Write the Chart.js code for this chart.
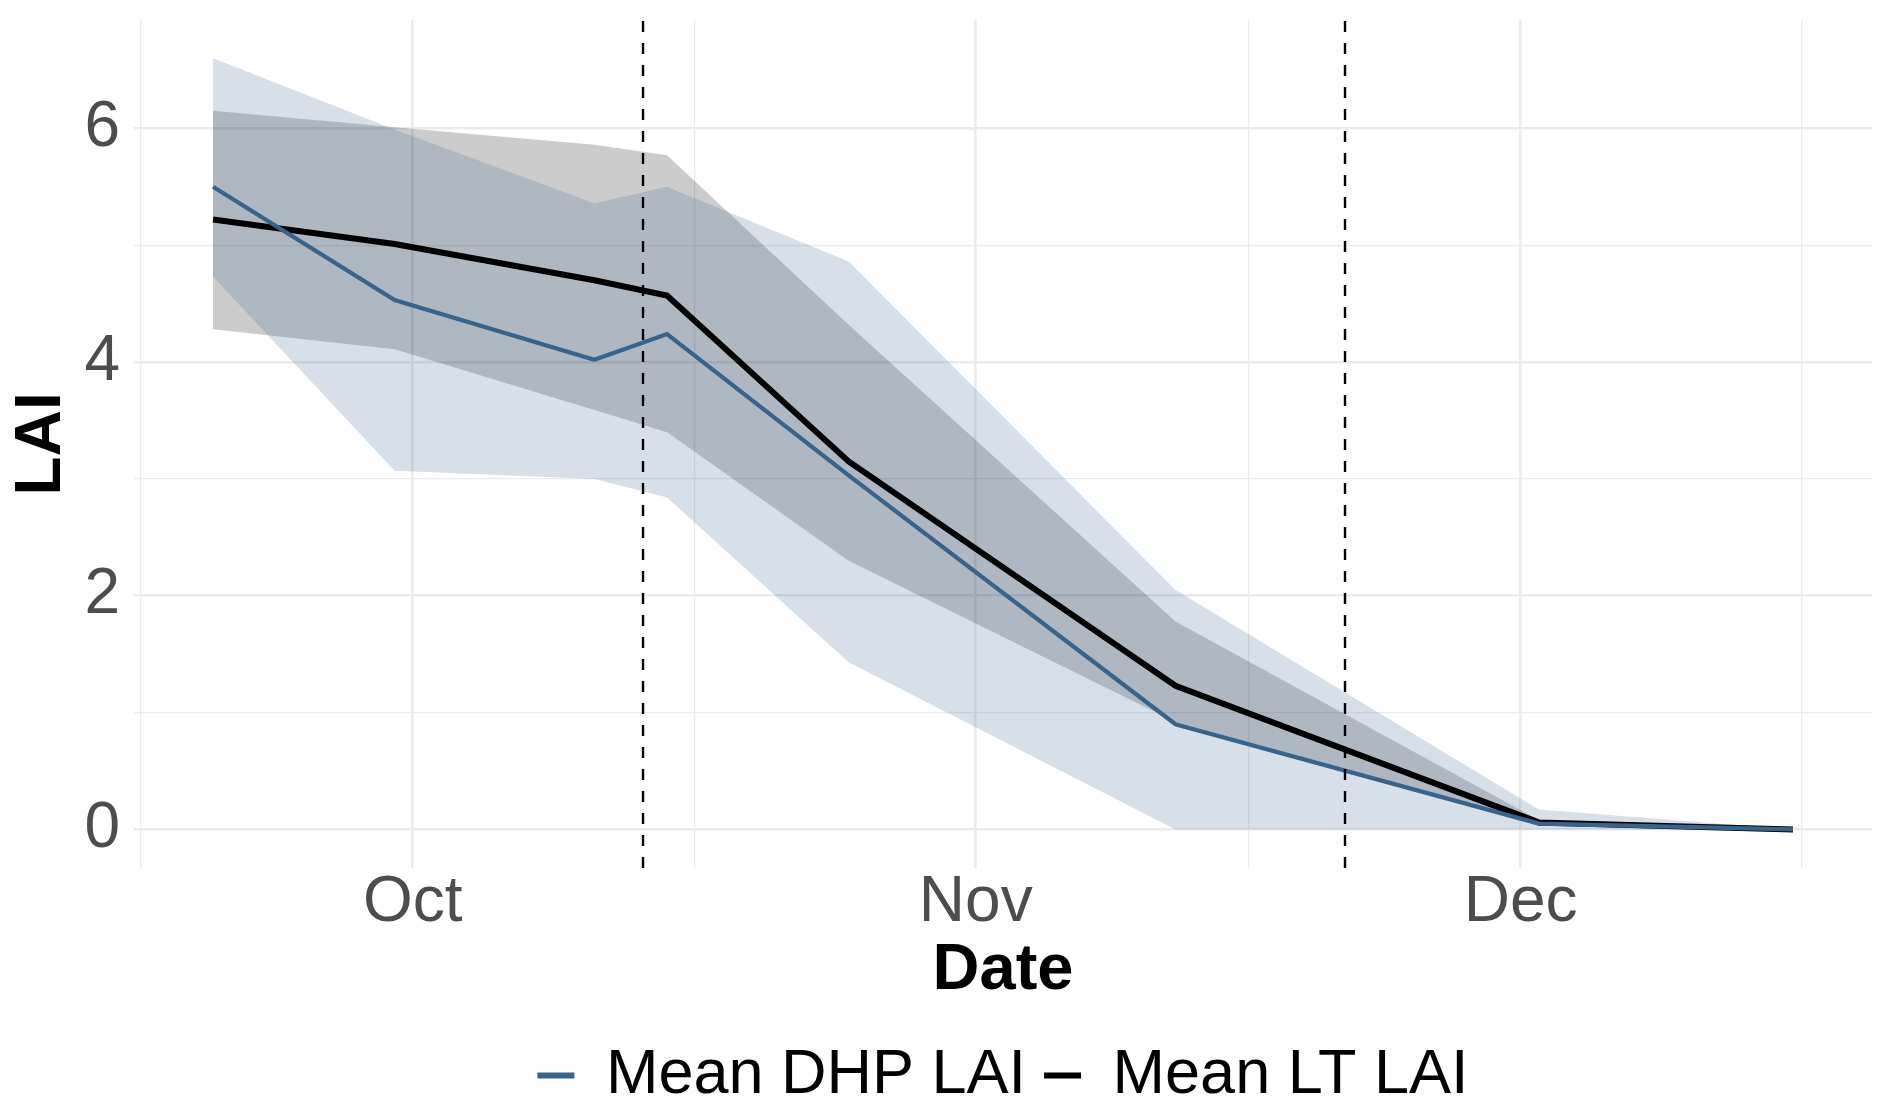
<!DOCTYPE html>
<html><head><meta charset="utf-8">
<script src="https://cdn.jsdelivr.net/npm/chart.js@4.4.1/dist/chart.umd.min.js"></script>
<style>html,body{margin:0;padding:0;background:#fff}canvas{display:block}</style>
</head><body>
<canvas id="c" width="1892" height="1119" style="width:1892px;height:1119px"></canvas>
<script>
// ---- data ----
const dates = ['2021-09-20','2021-09-30','2021-10-11','2021-10-15','2021-10-25','2021-11-12','2021-12-02','2021-12-16'];
const dhpMean  = [5.50, 4.53, 4.02, 4.24, 3.03, 0.90, 0.05, 0.00];
const dhpUpper = [6.60, 5.99, 5.36, 5.50, 4.86, 2.05, 0.17, 0.00];
const dhpLower = [4.73, 3.07, 3.00, 2.84, 1.43, 0.00, 0.00, 0.00];
const ltMean   = [5.22, 5.01, 4.70, 4.57, 3.15, 1.23, 0.06, 0.00];
const ltUpper  = [6.15, 6.01, 5.86, 5.77, 4.32, 1.78, 0.08, 0.01];
const ltLower  = [4.28, 4.11, 3.59, 3.40, 2.30, 0.92, 0.04, 0.00];
const phaseDates = ['2021-10-13T16:00','2021-11-21T08:30'];
const xMajorDates = ['2021-10-01','2021-11-01','2021-12-01'];
const xMajorLabels = ['Oct','Nov','Dec'];
const xMinorDates = ['2021-09-16','2021-10-16T12:00','2021-11-16','2021-12-16T12:00'];
const yMajorTicks = [0, 2, 4, 6];
const yMinorTicks = [1, 3, 5];
const seriesLabels = ['Mean DHP LAI', 'Mean LT LAI'];

// ---- helpers ----
const ORIGIN = Date.UTC(2021, 9, 1);
function toDay(s) {
  const iso = s.length === 10 ? s + 'T00:00Z' : s + 'Z';
  return (Date.parse(iso) - ORIGIN) / 86400000;
}
const xs = dates.map(toDay);
const pts = arr => arr.map((v, i) => ({x: xs[i], y: v}));
const xMinData = Math.min(...xs), xMaxData = Math.max(...xs);
const xPad = 0.05 * (xMaxData - xMinData);
const yMaxData = Math.max(...dhpUpper, ...ltUpper), yMinData = 0;
const yPad = 0.05 * (yMaxData - yMinData);

const BLUE = '#36648B';
const FONT = '"Liberation Sans", Arial, Helvetica, sans-serif';
Chart.defaults.font.family = FONT;

const vlinePlugin = {
  id: 'vlines',
  afterDatasetsDraw(chart) {
    const {ctx, chartArea: a, scales: {x}} = chart;
    ctx.save();
    ctx.beginPath(); ctx.rect(a.left, a.top, a.right - a.left, a.bottom - a.top); ctx.clip();
    ctx.strokeStyle = '#000'; ctx.lineWidth = 2.4; ctx.setLineDash([11, 11]);
    phaseDates.forEach(d => {
      const px = Math.round(x.getPixelForValue(toDay(d)));
      ctx.beginPath(); ctx.moveTo(px, a.bottom); ctx.lineTo(px, a.top); ctx.stroke();
    });
    ctx.restore();
  }
};

const gridWidth = ctx => (ctx.tick && ctx.tick.major) ? 2.6 : 1.3;

new Chart(document.getElementById('c'), {
  type: 'line',
  data: {
    datasets: [
      {label: seriesLabels[0], data: pts(dhpMean), borderColor: BLUE, borderWidth: 4.2, pointRadius: 0, fill: false, tension: 0},
      {label: seriesLabels[1], data: pts(ltMean), borderColor: '#000', borderWidth: 6, pointRadius: 0, fill: false, tension: 0},
      {label: 'DHP upper', data: pts(dhpUpper), borderWidth: 0, borderColor: 'rgba(0,0,0,0)', pointRadius: 0, fill: '+1', backgroundColor: 'rgba(54,100,139,0.2)'},
      {label: 'DHP lower', data: pts(dhpLower), borderWidth: 0, borderColor: 'rgba(0,0,0,0)', pointRadius: 0, fill: false},
      {label: 'LT upper', data: pts(ltUpper), borderWidth: 0, borderColor: 'rgba(0,0,0,0)', pointRadius: 0, fill: '+1', backgroundColor: 'rgba(0,0,0,0.2)'},
      {label: 'LT lower', data: pts(ltLower), borderWidth: 0, borderColor: 'rgba(0,0,0,0)', pointRadius: 0, fill: false}
    ]
  },
  options: {
    responsive: false,
    devicePixelRatio: 1,
    animation: false,
    layout: {padding: {left: 0, right: 20, top: 0, bottom: 2}},
    plugins: {
      tooltip: {enabled: false},
      filler: {propagate: false},
      legend: {
        position: 'bottom',
        fullSize: false,
        labels: {
          color: '#000',
          font: {size: 63, family: FONT},
          boxWidth: 37, boxHeight: 6, padding: 18,
          generateLabels: chart => [0, 1].map(i => ({
            text: chart.data.datasets[i].label,
            fillStyle: chart.data.datasets[i].borderColor,
            strokeStyle: chart.data.datasets[i].borderColor,
            lineWidth: 0, hidden: false, datasetIndex: i
          }))
        }
      }
    },
    scales: {
      x: {
        type: 'linear',
        min: xMinData - xPad, max: xMaxData + xPad,
        afterBuildTicks: s => {
          s.ticks = xMajorDates.map((d, i) => ({value: toDay(d), major: true, lab: xMajorLabels[i]}))
            .concat(xMinorDates.map(d => ({value: toDay(d), major: false, lab: ''})))
            .sort((a, b) => a.value - b.value);
        },
        afterFit: s => { s.height = 158; },
        ticks: {
          autoSkip: false, maxRotation: 0, padding: 3, color: '#4D4D4D',
          font: {size: 64, lineHeight: 1},
          callback: (v, i, t) => t[i].lab
        },
        grid: {color: '#EBEBEB', lineWidth: gridWidth, drawTicks: false},
        border: {display: false},
        title: {display: true, text: 'Date', color: '#000', font: {size: 65, weight: 'bold', lineHeight: 1}, padding: {top: 0, bottom: 22}}
      },
      y: {
        type: 'linear',
        min: yMinData - yPad, max: yMaxData + yPad,
        afterBuildTicks: s => {
          s.ticks = yMajorTicks.map(v => ({value: v, major: true}))
            .concat(yMinorTicks.map(v => ({value: v, major: false})))
            .sort((a, b) => a.value - b.value);
        },
        afterFit: s => { s.width = 134; },
        ticks: {
          padding: 14, color: '#4D4D4D',
          font: {size: 64, lineHeight: 0.178},
          callback: (v, i, t) => t[i].major ? String(v) : ''
        },
        grid: {color: '#EBEBEB', lineWidth: gridWidth, drawTicks: false},
        border: {display: false},
        title: {display: true, text: 'LAI', color: '#000', font: {size: 64, weight: 'bold', lineHeight: 1}, padding: {top: 10, bottom: 0}}
      }
    }
  },
  plugins: [vlinePlugin]
});
</script>
</body></html>
